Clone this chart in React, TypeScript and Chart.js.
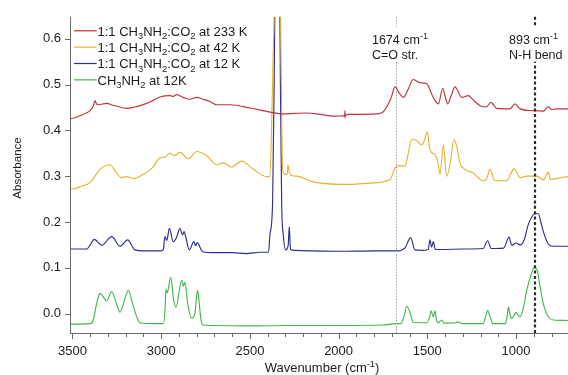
import React, { useEffect, useRef } from "react";
import { Chart, registerables } from "chart.js";

Chart.register(...registerables);

const FONT = '"Liberation Sans", Arial, Helvetica, sans-serif';

// ---- series labels & colours ----
const seriesLabels = [
  "1:1 CH₃NH₂:CO₂ at 233 K",
  "1:1 CH₃NH₂:CO₂ at 42 K",
  "1:1 CH₃NH₂:CO₂ at 12 K",
  "CH₃NH₂ at 12K",
];
const seriesColors = ["#c4323a", "#e4b535", "#2f2f8f", "#47b54f"];

// ---- 1:1 CH3NH2:CO2 at 233 K ----
const wn233 = [3514, 3504, 3458, 3401, 3384, 3373, 3365, 3355, 3307, 3272, 3232, 3194, 3159, 3119, 3063, 3007, 2950, 2933, 2913, 2875, 2838, 2800, 2764, 2725, 2687, 2612, 2499, 2387, 2312, 2180, 2105, 2030, 1970, 1966, 1964.5, 1963.5, 1962, 1936, 1785, 1750, 1729, 1705, 1682, 1659, 1635, 1608, 1579, 1541, 1503, 1475, 1457, 1438, 1413, 1400, 1385, 1366, 1344, 1306, 1269, 1237, 1203, 1169, 1141, 1109, 1034, 1006, 977, 903, 846, 818, 799, 771, 707];
const abs233 = [0.426, 0.426, 0.432, 0.443, 0.452, 0.465, 0.458, 0.456, 0.459, 0.455, 0.451, 0.448, 0.450, 0.454, 0.462, 0.473, 0.476, 0.474, 0.478, 0.472, 0.468, 0.472, 0.468, 0.463, 0.456, 0.456, 0.449, 0.440, 0.436, 0.438, 0.435, 0.431, 0.432, 0.431, 0.443, 0.427, 0.433, 0.435, 0.436, 0.440, 0.451, 0.470, 0.495, 0.482, 0.472, 0.490, 0.511, 0.504, 0.502, 0.479, 0.465, 0.458, 0.492, 0.475, 0.458, 0.475, 0.495, 0.472, 0.476, 0.465, 0.454, 0.451, 0.461, 0.448, 0.447, 0.458, 0.447, 0.443, 0.442, 0.452, 0.445, 0.447, 0.447];

// ---- 1:1 CH3NH2:CO2 at 42 K ----
const wn42 = [3514, 3504, 3450, 3401, 3345, 3289, 3252, 3224, 3194, 3157, 3101, 3050, 3007, 2979, 2950, 2927, 2894, 2847, 2800, 2744, 2687, 2650, 2603, 2546, 2481, 2405, 2388, 2378, 2370, 2363, 2350, 2340, 2327, 2321, 2316, 2306, 2290, 2285, 2279, 2270, 2236, 2161, 2123, 1936, 1823, 1710, 1682, 1663, 1625, 1610, 1588, 1560, 1532, 1515, 1500, 1485, 1457, 1440, 1428, 1410, 1391, 1370, 1350, 1334, 1316, 1288, 1241, 1185, 1165, 1147, 1119, 1053, 1011, 977, 940, 883, 846, 818, 807, 743, 707];
const abs42 = [0.272, 0.272, 0.278, 0.286, 0.315, 0.325, 0.307, 0.297, 0.299, 0.295, 0.304, 0.318, 0.340, 0.342, 0.350, 0.345, 0.352, 0.338, 0.354, 0.345, 0.325, 0.329, 0.320, 0.333, 0.315, 0.299, 0.30, 0.40, 0.55, 0.66, 1.1, 1.1, 0.66, 0.45, 0.32, 0.304, 0.305, 0.324, 0.31, 0.302, 0.300, 0.290, 0.286, 0.282, 0.285, 0.293, 0.318, 0.323, 0.322, 0.345, 0.380, 0.378, 0.368, 0.380, 0.397, 0.357, 0.347, 0.33, 0.304, 0.368, 0.300, 0.33, 0.380, 0.365, 0.329, 0.315, 0.307, 0.290, 0.295, 0.315, 0.290, 0.290, 0.316, 0.297, 0.300, 0.300, 0.292, 0.309, 0.293, 0.297, 0.299];

// ---- 1:1 CH3NH2:CO2 at 12 K ----
const wn12 = [3514, 3420, 3400, 3377, 3335, 3279, 3232, 3189, 3148, 3100, 3000, 2988, 2979, 2968, 2954, 2932, 2915, 2894, 2880, 2871, 2860, 2842, 2815, 2806, 2797, 2766, 2700, 2600, 2520, 2443, 2395, 2387, 2372, 2362, 2356, 2345, 2334, 2328, 2321, 2312, 2297, 2284, 2278, 2273, 2270, 2248, 2161, 2000, 1800, 1700, 1660, 1640, 1626, 1594, 1570, 1530, 1495, 1485, 1476, 1466, 1455, 1420, 1300, 1185, 1160, 1140, 1070, 1039, 1024, 1000, 977, 955, 932, 910, 893, 874, 860, 846, 818, 790, 707];
const abs12 = [0.141, 0.141, 0.150, 0.162, 0.149, 0.168, 0.147, 0.161, 0.139, 0.137, 0.137, 0.140, 0.168, 0.160, 0.186, 0.157, 0.165, 0.186, 0.172, 0.179, 0.165, 0.139, 0.157, 0.148, 0.155, 0.135, 0.133, 0.133, 0.131, 0.134, 0.134, 0.172, 0.243, 0.55, 0.8, 1.0, 0.8, 0.5, 0.243, 0.172, 0.139, 0.15, 0.19, 0.15, 0.14, 0.138, 0.137, 0.136, 0.137, 0.137, 0.137, 0.14, 0.143, 0.166, 0.139, 0.138, 0.14, 0.161, 0.145, 0.157, 0.14, 0.14, 0.141, 0.142, 0.159, 0.142, 0.143, 0.167, 0.149, 0.154, 0.150, 0.16, 0.193, 0.212, 0.218, 0.218, 0.20, 0.179, 0.152, 0.147, 0.147];

// ---- CH3NH2 at 12K ----
const wnCH = [3514, 3400, 3383, 3365, 3345, 3307, 3279, 3255, 3232, 3210, 3185, 3160, 3130, 3120, 3050, 2988, 2978, 2973, 2966, 2946, 2930, 2917, 2884, 2875, 2866, 2850, 2828, 2810, 2800, 2794, 2785, 2775, 2763, 2700, 2500, 2300, 2000, 1750, 1674, 1650, 1630, 1616, 1600, 1579, 1504, 1485, 1479, 1466, 1457, 1448, 1438, 1419, 1405, 1340, 1330, 1300, 1185, 1170, 1160, 1148, 1130, 1060, 1050, 1043, 1035, 1024, 1000, 977, 960, 940, 915, 898, 883, 865, 846, 818, 790, 707];
const absCH = [-0.023, -0.022, -0.014, 0.02, 0.044, 0.028, 0.048, 0.025, 0.003, 0.025, 0.051, 0.02, -0.015, -0.02, -0.022, -0.022, 0.01, 0.054, 0.045, 0.079, 0.03, 0.014, 0.073, 0.06, 0.068, 0.02, -0.01, 0.0, 0.04, 0.05, 0.02, -0.015, -0.025, -0.026, -0.027, -0.026, -0.026, -0.025, -0.022, -0.022, -0.005, 0.016, 0.005, -0.019, -0.02, -0.005, 0.006, -0.007, 0.006, -0.015, -0.02, -0.014, -0.021, -0.02, -0.018, -0.022, -0.022, -0.005, 0.007, -0.005, -0.022, -0.022, -0.005, 0.014, 0.0, -0.011, 0.002, -0.007, 0.01, 0.05, 0.085, 0.1, 0.097, 0.06, 0.021, -0.007, -0.014, -0.015];

// ---- axes ----
const xMin = 707;
const xMax = 3514;
const yMin = -0.0424;
const yMax = 0.648;
const xTickValues = [3500, 3000, 2500, 2000, 1500, 1000];
const xMinorStep = 100;
const yTickValues = [0.0, 0.1, 0.2, 0.3, 0.4, 0.5, 0.6];
const xTitle = "Wavenumber (cm⁻¹)";
const yTitle = "Absorbance";

// ---- marker lines ----
const markerWavenumbers = [1674, 893];
const markerLabels = [
  ["1674 cm⁻¹", "C=O str."],
  ["893 cm⁻¹", "N-H bend"],
];

const SUB = "₀₁₂₃₄₅₆₇₈₉";
const SUP = "⁰¹²³⁴⁵⁶⁷⁸⁹⁻";
const SUPN = "0123456789-";

type Run = { kind: string; text: string };
function toRuns(s: string): Run[] {
  const out: Run[] = [];
  for (const ch of s) {
    let kind = "n";
    let c = ch;
    let i = SUB.indexOf(ch);
    if (i >= 0) {
      kind = "sub";
      c = String(i);
    } else {
      i = SUP.indexOf(ch);
      if (i >= 0) {
        kind = "sup";
        c = SUPN[i];
      }
    }
    const last = out[out.length - 1];
    if (last && last.kind === kind) last.text += c;
    else out.push({ kind, text: c });
  }
  return out;
}

function richWidth(ctx: CanvasRenderingContext2D, s: string, size: number) {
  const small = size * 0.72;
  let w = 0;
  for (const r of toRuns(s)) {
    ctx.font = `${r.kind === "n" ? size : small}px ${FONT}`;
    w += ctx.measureText(r.text).width;
  }
  return w;
}

function drawRich(ctx: CanvasRenderingContext2D, s: string, x: number, y: number, size: number, align = "left") {
  const small = size * 0.72;
  const total = richWidth(ctx, s, size);
  let cx = align === "center" ? x - total / 2 : x;
  ctx.textAlign = "left";
  ctx.textBaseline = "alphabetic";
  for (const r of toRuns(s)) {
    ctx.font = `${r.kind === "n" ? size : small}px ${FONT}`;
    const dy = r.kind === "sub" ? size * 0.28 : r.kind === "sup" ? -size * 0.42 : 0;
    ctx.fillText(r.text, cx, y + dy);
    cx += ctx.measureText(r.text).width;
  }
  return total;
}

function pts(xs: number[], ys: number[]) {
  const n = Math.min(xs.length, ys.length);
  const out: { x: number; y: number }[] = [];
  for (let i = 0; i < n; i++) out.push({ x: xs[i], y: ys[i] });
  return out;
}

const TEXT = "#1c1c1c";
const AXIS = "#6a6a6a";

const decorPlugin = {
  id: "decor",
  afterDatasetsDraw(chart: any) {
    const { ctx, chartArea: a, scales } = chart;
    const xs = scales.x;
    const ys = scales.y;
    ctx.save();

    // marker lines
    const mStyles = [
      { color: "#a0a0a0", width: 1, dash: [1.5, 1.5] },
      { color: "#2a2a2a", width: 2.2, dash: [3, 2.4] },
    ];
    markerWavenumbers.forEach((w, i) => {
      const st = mStyles[i];
      const px = Math.round(xs.getPixelForValue(w)) + (st.width < 2 ? 0.5 : 0);
      ctx.strokeStyle = st.color;
      ctx.lineWidth = st.width;
      ctx.setLineDash(st.dash);
      ctx.beginPath();
      ctx.moveTo(px, a.top);
      ctx.lineTo(px, a.bottom);
      ctx.stroke();
    });
    ctx.setLineDash([]);

    // marker annotations (white backdrop interrupts the line)
    const annSize = 12.5;
    const annOffsets = [-24.5, -26];
    markerWavenumbers.forEach((w, i) => {
      const px = xs.getPixelForValue(w);
      const x0 = px + annOffsets[i];
      const lines = markerLabels[i];
      const wMax = Math.max(...lines.map((l) => richWidth(ctx, l, annSize)));
      ctx.fillStyle = "#ffffff";
      ctx.fillRect(x0 - 1, a.top + 10, wMax + 2, 35);
      ctx.fillStyle = TEXT;
      lines.forEach((l, j) => drawRich(ctx, l, x0, a.top + 27.5 + j * 15, annSize));
    });

    // axes
    ctx.strokeStyle = AXIS;
    ctx.lineWidth = 1;
    ctx.beginPath();
    ctx.moveTo(a.left + 0.5, a.top);
    ctx.lineTo(a.left + 0.5, a.bottom + 0.5);
    ctx.lineTo(a.right, a.bottom + 0.5);
    ctx.stroke();
    ctx.beginPath();
    yTickValues.forEach((v) => {
      const py = Math.round(ys.getPixelForValue(v)) + 0.5;
      ctx.moveTo(a.left - 5, py);
      ctx.lineTo(a.left, py);
    });
    for (let v = Math.ceil(xMin / xMinorStep) * xMinorStep; v <= xMax; v += xMinorStep) {
      const px = Math.round(xs.getPixelForValue(v)) + 0.5;
      const len = v % 500 === 0 ? 6 : 4;
      ctx.moveTo(px, a.bottom);
      ctx.lineTo(px, a.bottom + len);
    }
    ctx.stroke();

    // axis titles
    ctx.fillStyle = TEXT;
    drawRich(ctx, xTitle, (a.left + a.right) / 2 + 3, 372, 13, "center");
    ctx.save();
    ctx.translate(21, 168);
    ctx.rotate(-Math.PI / 2);
    drawRich(ctx, yTitle, 0, 0, 11.5, "center");
    ctx.restore();

    // legend
    seriesLabels.forEach((lab, i) => {
      const cy = a.top + 14 + i * 16.35;
      ctx.strokeStyle = seriesColors[i];
      ctx.lineWidth = 1.2;
      ctx.beginPath();
      ctx.moveTo(a.left + 4, cy);
      ctx.lineTo(a.left + 26.7, cy);
      ctx.stroke();
      ctx.fillStyle = TEXT;
      drawRich(ctx, lab, a.left + 27.5, cy + 4.7, 13);
    });

    ctx.restore();
  },
};

export default function App() {
  const ref = useRef<HTMLCanvasElement | null>(null);
  useEffect(() => {
    if (!ref.current) return;
    const series = [
      pts(wn233, abs233),
      pts(wn42, abs42),
      pts(wn12, abs12),
      pts(wnCH, absCH),
    ];
    const chart = new Chart(ref.current, {
      type: "line",
      data: {
        datasets: series.map((d, i) => ({
          label: seriesLabels[i],
          data: d,
          borderColor: seriesColors[i],
          backgroundColor: seriesColors[i],
          borderWidth: 1.15,
          pointRadius: 0,
          fill: false,
          cubicInterpolationMode: "monotone" as const,
        })),
      },
      options: {
        animation: false,
        responsive: false,
        maintainAspectRatio: false,
        parsing: false as any,
        layout: { padding: { top: 12, right: 0, left: 0, bottom: 0 } },
        plugins: {
          legend: { display: false },
          tooltip: { enabled: false },
          title: { display: false },
        },
        scales: {
          x: {
            type: "linear",
            reverse: true,
            min: xMin,
            max: xMax,
            afterFit: (s: any) => {
              s.height = 42;
            },
            afterBuildTicks: (s: any) => {
              s.ticks = xTickValues.map((v) => ({ value: v }));
            },
            grid: { display: false, drawTicks: false },
            border: { display: false },
            ticks: {
              autoSkip: false,
              maxRotation: 0,
              padding: 11,
              color: TEXT,
              font: { size: 13, family: FONT },
              callback: (v: any) => String(v),
            },
          },
          y: {
            type: "linear",
            min: yMin,
            max: yMax,
            afterFit: (s: any) => {
              s.width = 70;
            },
            afterBuildTicks: (s: any) => {
              s.ticks = yTickValues.map((v) => ({ value: v }));
            },
            grid: { display: false, drawTicks: false },
            border: { display: false },
            ticks: {
              padding: 9,
              color: TEXT,
              font: { size: 13, family: FONT },
              callback: (v: any) => Number(v).toFixed(1),
            },
          },
        },
      },
      plugins: [decorPlugin],
    });
    return () => chart.destroy();
  }, []);

  return (
    <div style={{ position: "absolute", left: 0, top: 0, width: 568, height: 375, background: "#fff" }}>
      <canvas ref={ref} width={568} height={375} style={{ display: "block", width: 568, height: 375 }} />
    </div>
  );
}
